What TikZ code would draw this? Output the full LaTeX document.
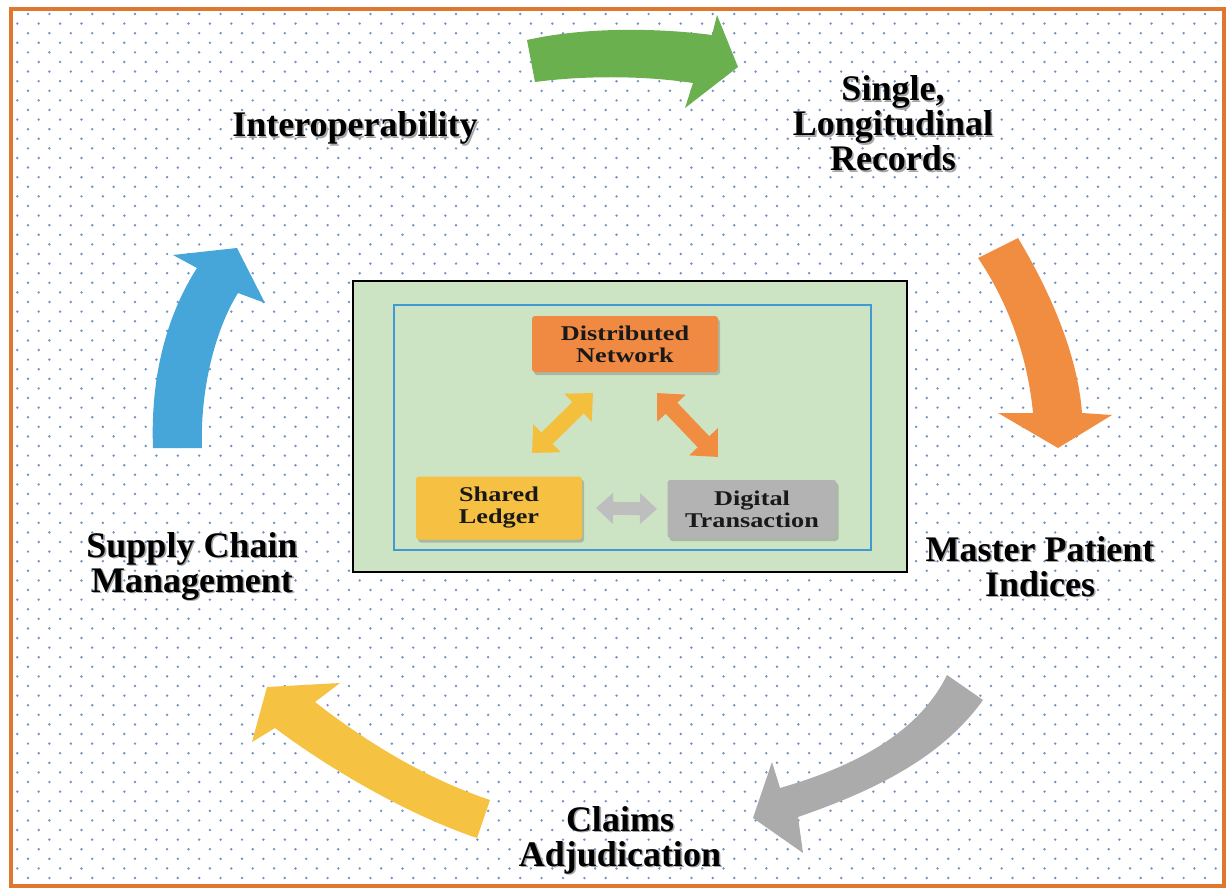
\documentclass[tikz,border=0pt]{standalone}
\usepackage{fontspec}
\setmainfont{Liberation Serif}
\newfontfamily\boxfont{Liberation Serif}[FakeStretch=1.25]
\usetikzlibrary{arrows.meta,shadows,calc}

\definecolor{frameorange}{HTML}{E0772E}
\definecolor{dotblue}{HTML}{7393C4}
\definecolor{panelgreen}{HTML}{CDE4C4}
\definecolor{panelblue}{HTML}{3F9BD2}
\definecolor{arrgreen}{HTML}{6AB04E}
\definecolor{arrorange}{HTML}{F08D41}
\definecolor{arrgray}{HTML}{ABABAB}
\definecolor{arryellow}{HTML}{F5C241}
\definecolor{arrblue}{HTML}{46A6DA}
\definecolor{boxorange}{HTML}{F08A43}
\definecolor{boxyellow}{HTML}{F6C143}
\definecolor{boxgray}{HTML}{B3B3B3}

% bold label with a soft grey shadow behind it
\newcommand\shad[1]{\leavevmode\rlap{\hspace{1.6pt}\raisebox{-1.6pt}{\textcolor{black!35}{#1}}}#1}

\tikzset{
  cyclelabel/.style={font=\fontsize{36}{35}\selectfont\bfseries, align=center, inner sep=0pt, text=black},
  corebox/.style={rounded corners=3pt, minimum width=#1, minimum height=56pt, inner sep=2pt,
    font=\boxfont\fontsize{21}{22}\selectfont\bfseries, align=center, text=black!90,
    drop shadow={shadow xshift=2pt, shadow yshift=-3pt, opacity=0.35, fill=black!60}},
  bigarrow/.style={fill=#1, draw=none},
  link/.style={draw=#1, line width=16pt,
    {Triangle[width=38pt,length=21pt]}-{Triangle[width=38pt,length=21pt]}},
}

\begin{document}
\begin{tikzpicture}[x=1pt, y=-1pt]
\useasboundingbox (0,0) rectangle (1231,893);
\fill[white] (0,0) rectangle (1231,893);

% dotted paper inside the frame, one path per row
\begin{scope}
  \clip (13,11) rectangle (1222,884);
  \foreach \j in {0,...,92} {
    \pgfmathsetmacro{\rowy}{14+9.6*\j}
    \pgfmathsetmacro{\rowx}{28-10.7*mod(\j,2)}
    \fill[dotblue] \foreach \i in {0,...,57} { ({\rowx+21.4*\i}, \rowy) circle (1.35) };
  }
\end{scope}
\draw[frameorange, line width=4.5pt] (11,9) rectangle (1224,886);

% central panel
\draw[black, line width=1.8pt, fill=panelgreen] (353,281) rectangle (907,572);
\draw[panelblue, line width=1.4pt] (394,305) rectangle (871,550);

\node[corebox=186pt, fill=boxorange] (dn) at (625,344) {Distributed\\Network};
\node[corebox=166pt, fill=boxyellow, minimum height=63pt] (sl) at (499,508) {Shared\\Ledger};
\node[corebox=169pt, fill=boxgray, minimum height=58pt] (dt) at (752,509) {Digital\\Transaction};

\coordinate (y1) at (532,453);
\coordinate (y2) at (593,393);
\coordinate (o1) at (657,393);
\coordinate (o2) at (718,457);
\coordinate (g1) at (596,508);
\coordinate (g2) at (657,509);
\draw[link=arryellow!95!orange] (y1) -- (y2);
\draw[link=arrorange] (o1) -- (o2);
\draw[link=boxgray!85!white, line width=13pt,
  {Triangle[width=30pt,length=17pt]}-{Triangle[width=30pt,length=17pt]}] (g1) -- (g2);

% cycle labels
\node[cyclelabel, anchor=base] (interop) at (355,137) {\shad{Interoperability}};
\node[cyclelabel] (single) at (893,124) {\shad{Single,}\\\shad{Longitudinal}\\\shad{Records}};
\node[cyclelabel] (master) at (1040,567) {\shad{Master Patient}\\\shad{Indices}};
\node[cyclelabel] (claims) at (620,841) {\shad{Claims}\\\shad{Adjudication}};
\node[cyclelabel] (supply) at (192,567) {\shad{Supply Chain}\\\shad{Management}};

% curved block arrows between the labels
\fill[bigarrow=arrgreen]
  (527,40) .. controls (580,28) and (650,27) .. (712,35) -- (717,15) -- (738,67)
  -- (685,108) -- (693,83) .. controls (640,75) and (580,76) .. (535,82) -- cycle;
\fill[bigarrow=arrorange]
  (978,258) -- (1018,238) .. controls (1055,300) and (1078,360) .. (1082,413)
  -- (1112,415) -- (1058,448) -- (998,413) -- (1033,413)
  .. controls (1028,360) and (1010,305) .. (978,258) -- cycle;
\fill[bigarrow=arrgray]
  (947,675) -- (983,700) .. controls (940,760) and (870,792) .. (798,817)
  -- (803,853) -- (753,818) -- (772,762) -- (780,788)
  .. controls (860,765) and (920,730) .. (947,675) -- cycle;
\fill[bigarrow=arryellow]
  (490,800) -- (477,838) .. controls (400,812) and (320,762) .. (275,728)
  -- (252,742) -- (267,687) -- (340,683) -- (315,702)
  .. controls (370,745) and (430,780) .. (490,800) -- cycle;
\fill[bigarrow=arrblue]
  (153,448) .. controls (150,370) and (170,310) .. (197,268) -- (173,255)
  -- (237,248) -- (265,303) -- (238,293)
  .. controls (215,330) and (200,390) .. (202,448) -- cycle;
\end{tikzpicture}
\end{document}
